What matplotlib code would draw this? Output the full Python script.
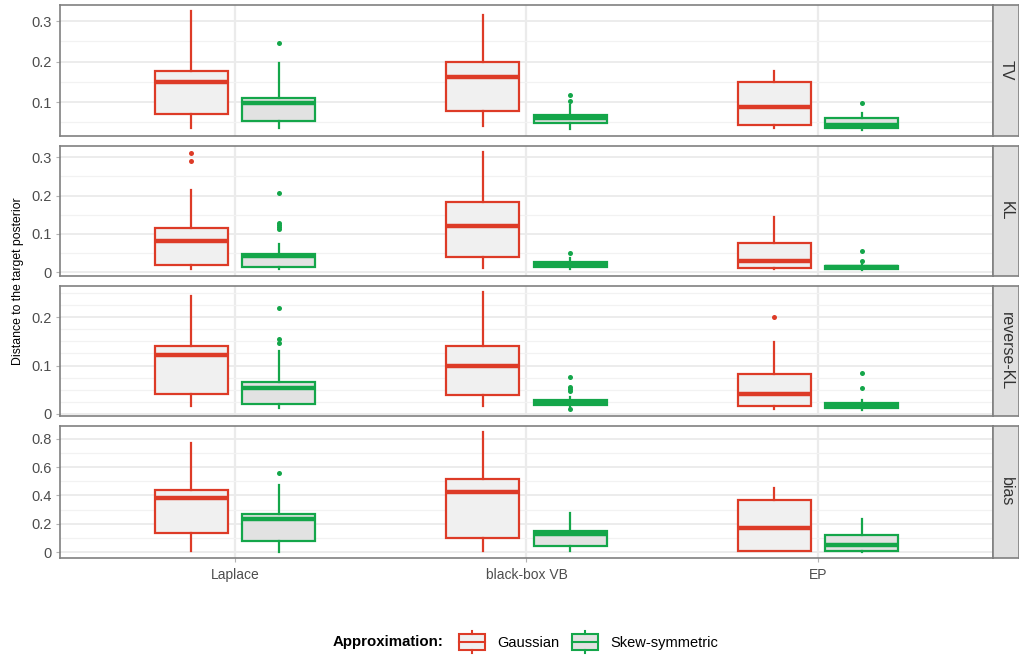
import matplotlib
matplotlib.use("Agg")
import matplotlib.pyplot as plt
import numpy as np
from matplotlib.patches import Rectangle, Patch
from matplotlib.lines import Line2D
from matplotlib.legend_handler import HandlerBase
from matplotlib.ticker import FuncFormatter

plt.rcParams['font.family'] = ['Liberation Sans', 'DejaVu Sans']

methods = ["Laplace", "black-box VB", "EP"]
metrics = ["TV", "KL", "reverse-KL", "bias"]
approximations = ["Gaussian", "Skew-symmetric"]

# box summaries per method: [whisker low, q1, median, q3, whisker high]
tv_gauss = [[0.037, 0.071, 0.150, 0.177, 0.325],
            [0.042, 0.077, 0.163, 0.200, 0.314],
            [0.036, 0.044, 0.089, 0.149, 0.177]]
tv_skew = [[0.037, 0.053, 0.097, 0.111, 0.196],
           [0.034, 0.049, 0.061, 0.068, 0.093],
           [0.031, 0.037, 0.044, 0.060, 0.073]]
tv_gauss_out = [[], [], []]
tv_skew_out = [[0.246], [0.102, 0.118], [0.099]]

kl_gauss = [[0.009, 0.019, 0.082, 0.114, 0.215],
            [0.011, 0.039, 0.121, 0.183, 0.314],
            [0.009, 0.011, 0.029, 0.075, 0.144]]
kl_skew = [[0.007, 0.014, 0.042, 0.046, 0.072],
           [0.007, 0.013, 0.020, 0.027, 0.037],
           [0.005, 0.007, 0.012, 0.017, 0.020]]
kl_gauss_out = [[0.291, 0.312], [], []]
kl_skew_out = [[0.113, 0.118, 0.123, 0.128, 0.206], [0.049], [0.030, 0.056]]

rkl_gauss = [[0.016, 0.041, 0.121, 0.141, 0.243],
             [0.017, 0.039, 0.099, 0.140, 0.252],
             [0.010, 0.016, 0.041, 0.082, 0.149]]
rkl_skew = [[0.012, 0.021, 0.054, 0.065, 0.130],
            [0.015, 0.019, 0.023, 0.028, 0.036],
            [0.008, 0.012, 0.017, 0.023, 0.029]]
rkl_gauss_out = [[], [], [0.200]]
rkl_skew_out = [[0.146, 0.155, 0.218], [0.010, 0.048, 0.052, 0.055, 0.077], [0.053, 0.084]]

bias_gauss = [[0.007, 0.136, 0.382, 0.437, 0.771],
              [0.005, 0.100, 0.425, 0.514, 0.848],
              [0.005, 0.008, 0.172, 0.365, 0.450]]
bias_skew = [[0.000, 0.079, 0.232, 0.268, 0.473],
             [0.005, 0.041, 0.125, 0.148, 0.275],
             [0.000, 0.005, 0.050, 0.120, 0.234]]
bias_gauss_out = [[], [], []]
bias_skew_out = [[0.557], [], []]

panels = {
    "TV": (tv_gauss, tv_skew, tv_gauss_out, tv_skew_out),
    "KL": (kl_gauss, kl_skew, kl_gauss_out, kl_skew_out),
    "reverse-KL": (rkl_gauss, rkl_skew, rkl_gauss_out, rkl_skew_out),
    "bias": (bias_gauss, bias_skew, bias_gauss_out, bias_skew_out),
}
major_step = {"TV": 0.1, "KL": 0.1, "reverse-KL": 0.1, "bias": 0.2}
minor_step = {"TV": 0.05, "KL": 0.05, "reverse-KL": 0.025, "bias": 0.1}

colors = ["#DD3B27", "#14A64A"]
fills = ["#F0F0F0", "#E2E2E2"]
offsets = [-0.15, 0.15]

W, H = 1020, 655
fig = plt.figure(figsize=(W / 100, H / 100), dpi=100)

left, right, strip_w = 60, 993, 26
rows = [(5, 136), (146, 276), (286, 416), (426, 558)]


def fmt(v, pos):
    return "0" if abs(v) < 1e-9 else f"{v:g}"


for k, (metric, (top, bot)) in enumerate(zip(metrics, rows)):
    ax = fig.add_axes([left / W, 1 - bot / H, (right - left) / W, (bot - top) / H])
    gauss, skew, gout, sout = panels[metric]
    for j, (summ, outs) in enumerate([(gauss, gout), (skew, sout)]):
        stats = []
        for s, o in zip(summ, outs):
            stats.append(dict(whislo=s[0], q1=s[1], med=s[2], q3=s[3], whishi=s[4], fliers=o))
        pos = np.arange(1, len(methods) + 1) + offsets[j]
        ax.bxp(stats, positions=pos, widths=0.25, patch_artist=True, showcaps=False,
               boxprops=dict(facecolor=fills[j], edgecolor=colors[j], linewidth=1.6),
               medianprops=dict(color=colors[j], linewidth=3.2, solid_capstyle='butt'),
               whiskerprops=dict(color=colors[j], linewidth=1.6),
               flierprops=dict(marker='o', markersize=3.6, markerfacecolor=colors[j],
                               markeredgecolor='none'),
               zorder=3)
    allv = [v for s in gauss + skew for v in s] + [v for o in gout + sout for v in o]
    lo, hi = min(allv), max(allv)
    pad = 0.05 * (hi - lo)
    ylo, yhi = lo - pad, hi + pad
    ms, mn = major_step[metric], minor_step[metric]
    majors = [m for m in np.arange(0, yhi + 1e-9, ms) if m >= ylo]
    minors = [m for m in np.arange(0, yhi + 1e-9, mn)
              if m >= ylo and np.min(np.abs(np.array(majors) - m)) > 1e-6]
    ax.set_yticks(majors)
    ax.set_yticks(minors, minor=True)
    ax.set_ylim(ylo, yhi)
    ax.set_xlim(0.4, len(methods) + 0.6)
    ax.yaxis.set_major_formatter(FuncFormatter(fmt))
    ax.grid(axis='y', which='major', color='#EBEBEB', linewidth=1.3, zorder=0)
    ax.grid(axis='y', which='minor', color='#F2F2F2', linewidth=0.9, zorder=0)
    ax.set_xticks(range(1, len(methods) + 1))
    ax.grid(axis='x', which='major', color='#EBEBEB', linewidth=1.6, zorder=0)
    ax.set_axisbelow(True)
    ax.tick_params(axis='y', which='major', labelsize=10.5, labelcolor='#4D4D4D',
                   color='#B3B3B3', length=3, width=0.8, pad=3)
    ax.tick_params(axis='y', which='minor', length=0)
    if k == len(metrics) - 1:
        ax.set_xticklabels(methods)
        ax.tick_params(axis='x', labelsize=10, labelcolor='#4D4D4D', color='#B3B3B3',
                       length=3, width=0.8, pad=4)
    else:
        ax.tick_params(axis='x', length=0, labelbottom=False)
    for sp in ax.spines.values():
        sp.set_color('#808080')
        sp.set_linewidth(1.2)

    # facet strip
    sax = fig.add_axes([right / W, 1 - bot / H, strip_w / W, (bot - top) / H])
    sax.set_facecolor('#E0E0E0')
    sax.set_xticks([])
    sax.set_yticks([])
    for sp in sax.spines.values():
        sp.set_color('#808080')
        sp.set_linewidth(1.2)
    sax.text(0.5, 0.5, metric, rotation=270, ha='center', va='center',
             fontsize=11.5, color='#333333', transform=sax.transAxes)

fig.text(18 / W, 1 - 281 / H, "Distance to the target posterior", rotation=90,
         ha='center', va='center', fontsize=8.8, color='black')


class BoxHandler(HandlerBase):
    def create_artists(self, legend, orig_handle, xdescent, ydescent, width, height,
                       fontsize, trans):
        ec = orig_handle.get_edgecolor()
        fc = orig_handle.get_facecolor()
        x0, y0 = -xdescent, -ydescent
        bh = height * 0.68
        by = y0 + (height - bh) / 2
        rect = Rectangle((x0, by), width, bh, facecolor=fc, edgecolor=ec,
                         linewidth=1.5, transform=trans)
        med = Line2D([x0, x0 + width], [by + bh / 2] * 2, color=ec, linewidth=1.5,
                     transform=trans)
        cx = x0 + width / 2
        w1 = Line2D([cx, cx], [y0, by], color=ec, linewidth=1.5, transform=trans)
        w2 = Line2D([cx, cx], [by + bh, y0 + height], color=ec, linewidth=1.5,
                    transform=trans)
        return [rect, med, w1, w2]


handles = [Patch(facecolor=fills[i], edgecolor=colors[i], label=approximations[i])
           for i in range(2)]
fig.text(333 / W, 1 - 642 / H, "Approximation:", fontsize=10.8, fontweight='bold',
         ha='left', va='center')
fig.legend(handles=handles, loc='center left', bbox_to_anchor=(459 / W, 1 - 642 / H),
           ncol=2, frameon=False, fontsize=10.5, handlelength=1.8, handleheight=2.0,
           handletextpad=0.8, columnspacing=0.9, borderaxespad=0, borderpad=0,
           handler_map={Patch: BoxHandler()})

fig.savefig("out.png", dpi=100)
